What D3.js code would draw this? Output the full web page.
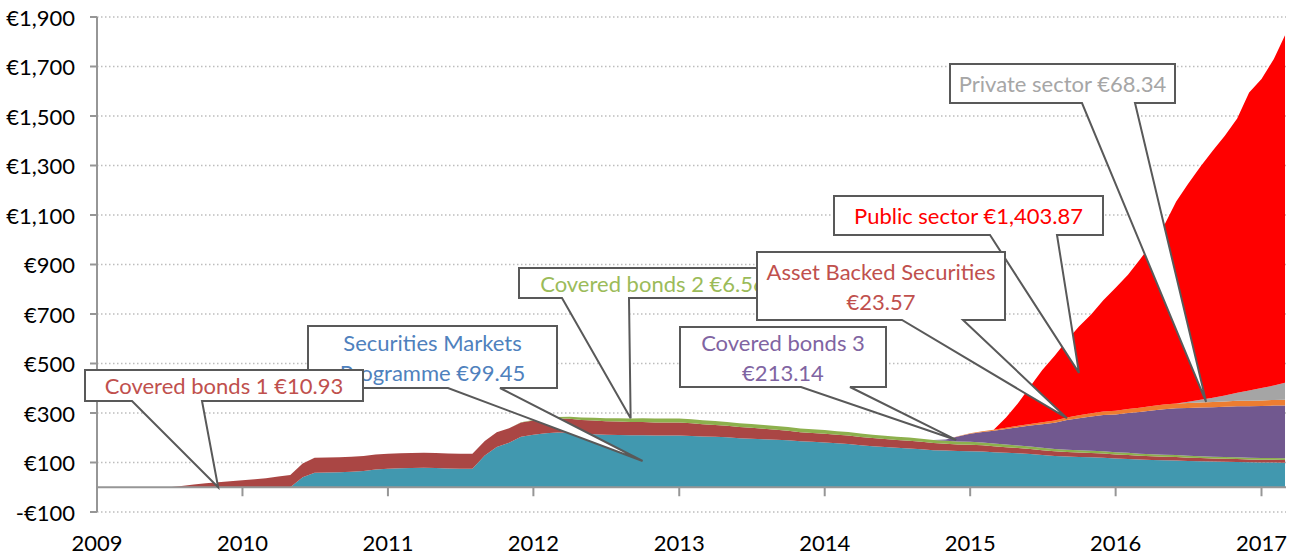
<!DOCTYPE html>
<html>
<head>
<meta charset="utf-8">
<script src="https://cdn.jsdelivr.net/npm/d3@7"></script>
<style>
  body { margin: 0; background: #ffffff; }
  svg { display: block; font-family: Lato, "Open Sans", sans-serif; }
</style>
</head>
<body>
<div id="chart"></div>
<script>
// Monthly holdings in € billion, first of month, Jun 2009 .. Mar 2017
const months = d3.timeMonth.range(new Date(2009, 5, 1), new Date(2017, 2, 2));

// Securities Markets Programme
const smp = [
  0, 0, 0, 0, 0, 0, 0,
  0, 0, 0, 0, 0, 40, 59, 60, 61, 63, 66, 72,
  75, 77, 78, 79, 78, 76, 75, 75, 128, 163, 180, 204,
  212, 218, 221, 220, 216, 214, 212, 211, 210, 210, 209, 209,
  209, 207, 205, 204, 202, 198, 196, 194, 192, 190, 186, 184,
  181, 178, 175, 170, 166, 163, 160, 157, 154, 150, 148, 146,
  145, 144, 141, 139, 137, 134, 130, 126, 124, 122, 121, 119,
  116, 114, 112, 110, 109, 108, 106, 105, 104, 103, 102, 101,
  100, 100, 99.45
];
// Covered bonds 1
const cb1 = [
  0, 0, 5, 11, 16, 20, 24,
  28, 32, 36, 43, 49, 56, 60, 60, 60, 60, 60, 60,
  60, 60, 60, 60, 60, 60, 60, 60, 59, 59, 58, 58,
  58, 58, 57, 57, 56, 56, 55, 55, 54, 54, 53, 53,
  53, 52, 50, 48, 46, 45, 44, 42, 40, 38, 36, 35,
  35, 34, 34, 33, 33, 32, 31, 31, 30, 29, 28, 27,
  27, 26, 25, 23, 22, 21, 20, 19, 18, 18, 17, 17,
  16, 16, 15, 15, 14, 14, 13, 13, 12, 12, 12, 11,
  11, 11, 10.93
];
// Covered bonds 2
const cb2 = [
  0, 0, 0, 0, 0, 0, 0,
  0, 0, 0, 0, 0, 0, 0, 0, 0, 0, 0, 0,
  0, 0, 0, 0, 0, 0, 0, 0, 0, 0, 0, 1,
  2, 4, 6, 8, 10, 11, 12, 13, 14, 15, 16, 16,
  16, 16, 16, 16, 16, 16, 16, 16, 15, 15, 15, 15,
  15, 14, 14, 14, 13, 13, 13, 13, 12, 12, 12, 12,
  12, 11, 11, 11, 10, 10, 10, 10, 10, 9, 9, 9,
  9, 9, 8, 8, 8, 8, 8, 7, 7, 7, 7, 7,
  7, 7, 6.56
];
// Covered bonds 3
const cb3 = [
  0, 0, 0, 0, 0, 0, 0,
  0, 0, 0, 0, 0, 0, 0, 0, 0, 0, 0, 0,
  0, 0, 0, 0, 0, 0, 0, 0, 0, 0, 0, 0,
  0, 0, 0, 0, 0, 0, 0, 0, 0, 0, 0, 0,
  0, 0, 0, 0, 0, 0, 0, 0, 0, 0, 0, 0,
  0, 0, 0, 0, 0, 0, 0, 0, 0, 0, 5, 20,
  32, 42, 51, 62, 73, 84, 95, 106, 120, 130, 139, 147,
  153, 161, 169, 177, 184, 189, 193, 197, 200, 203, 206, 208,
  210, 212, 213.14
];
// Asset Backed Securities
const abs = [
  0, 0, 0, 0, 0, 0, 0,
  0, 0, 0, 0, 0, 0, 0, 0, 0, 0, 0, 0,
  0, 0, 0, 0, 0, 0, 0, 0, 0, 0, 0, 0,
  0, 0, 0, 0, 0, 0, 0, 0, 0, 0, 0, 0,
  0, 0, 0, 0, 0, 0, 0, 0, 0, 0, 0, 0,
  0, 0, 0, 0, 0, 0, 0, 0, 0, 0, 0, 1,
  2, 3, 4, 5, 6, 7, 8, 9, 10, 12, 13, 14,
  15, 16, 17, 18, 19, 19, 20, 20, 21, 21, 22, 22,
  23, 23, 23.57
];
// Private sector (corporate)
const cspp = [
  0, 0, 0, 0, 0, 0, 0,
  0, 0, 0, 0, 0, 0, 0, 0, 0, 0, 0, 0,
  0, 0, 0, 0, 0, 0, 0, 0, 0, 0, 0, 0,
  0, 0, 0, 0, 0, 0, 0, 0, 0, 0, 0, 0,
  0, 0, 0, 0, 0, 0, 0, 0, 0, 0, 0, 0,
  0, 0, 0, 0, 0, 0, 0, 0, 0, 0, 0, 0,
  0, 0, 0, 0, 0, 0, 0, 0, 0, 0, 0, 0,
  0, 0, 0, 0, 0, 0, 5, 12, 18, 25, 33, 42,
  50, 58, 68.34
];
// Public sector
const pspp = [
  0, 0, 0, 0, 0, 0, 0,
  0, 0, 0, 0, 0, 0, 0, 0, 0, 0, 0, 0,
  0, 0, 0, 0, 0, 0, 0, 0, 0, 0, 0, 0,
  0, 0, 0, 0, 0, 0, 0, 0, 0, 0, 0, 0,
  0, 0, 0, 0, 0, 0, 0, 0, 0, 0, 0, 0,
  0, 0, 0, 0, 0, 0, 0, 0, 0, 0, 0, 0,
  0, 0, 0, 42, 91, 152, 211, 261, 312, 359, 400, 450,
  497, 543, 597, 657, 722, 817, 881, 942, 999, 1049, 1108, 1204,
  1249, 1319, 1403.87
];

const seriesKeys = ["smp", "cb1", "cb2", "cb3", "abs", "cspp", "pspp"];
const seriesValues = [smp, cb1, cb2, cb3, abs, cspp, pspp];
const seriesColors = ["#4198AF", "#AA4644", "#8DB04D", "#71588F", "#ED7D31", "#A5A5A5", "#FF0000"];

const yTicks = [-100, 100, 300, 500, 700, 900, 1100, 1300, 1500, 1700, 1900];
const xTickYears = [2009, 2010, 2011, 2012, 2013, 2014, 2015, 2016, 2017];

// Callout labels: text, colour, box [x0,y0,x1,y1], pointer base on box bottom, tip in data units
const callouts = [
  { lines: ["Securities Markets", "Programme €99.45"], color: "#4F81BD",
    box: [308, 326, 557, 388], base: [448, 500], tip: [new Date(2012, 9, 1), 106] },
  { lines: ["Covered bonds 1 €10.93"], color: "#C0504D",
    box: [85, 370, 363, 401], base: [132, 202], tip: [new Date(2009, 10, 1), 0] },
  { lines: ["Covered bonds 2 €6.56"], color: "#9BBB59",
    box: [519, 268, 787, 298], base: [562, 629], tip: [new Date(2012, 8, 1), 279] },
  { lines: ["Public sector €1,403.87"], color: "#FF0000",
    box: [834, 196, 1103, 235], base: [990, 1057], tip: [new Date(2015, 9, 1), 462] },
  { lines: ["Asset Backed Securities", "€23.57"], color: "#C0504D",
    box: [757, 252, 1005, 320], base: [902, 963], tip: [new Date(2015, 8, 1), 279] },
  { lines: ["Covered bonds 3", "€213.14"], color: "#8064A2",
    box: [680, 327, 886, 387], base: [801, 850], tip: [new Date(2014, 10, 27), 191] },
  { lines: ["Private sector €68.34"], color: "#A6A6A6",
    box: [950, 64, 1175, 103], base: [1082, 1135], tip: [new Date(2016, 7, 15), 345] }
];

const width = 1299;
const height = 556;
const plot = { left: 97, right: 1286, top: 17, bottom: 512 };
const fontSize = "22px";

const svg = d3.select("#chart").append("svg")
  .attr("width", width)
  .attr("height", height);

const x = d3.scaleTime()
  .domain([new Date(2009, 0, 1), new Date(2017, 0, 1)])
  .range([plot.left, 1261.5]);

const y = d3.scaleLinear()
  .domain([-100, 1900])
  .range([plot.bottom, plot.top]);

// Gridlines
svg.append("g")
  .selectAll("line")
  .data(yTicks)
  .enter().append("line")
  .attr("x1", plot.left)
  .attr("x2", plot.right)
  .attr("y1", d => y(d))
  .attr("y2", d => y(d))
  .style("stroke", "#bdbdbd")
  .style("stroke-width", 1.5)
  .style("stroke-dasharray", "1.5,2.5");

// Stacked areas
const rows = months.map((m, i) => {
  const row = { date: m };
  seriesKeys.forEach((k, j) => { row[k] = seriesValues[j][i]; });
  return row;
});

const stacked = d3.stack().keys(seriesKeys)(rows);

const area = d3.area()
  .x(d => x(d.data.date))
  .y0(d => y(d[0]))
  .y1(d => y(d[1]));

svg.append("g")
  .selectAll("path")
  .data(stacked)
  .enter().append("path")
  .attr("d", area)
  .style("fill", (d, i) => seriesColors[i]);

// Axes
const axisColor = "#969696";

svg.append("line")
  .attr("x1", plot.left).attr("x2", plot.left)
  .attr("y1", plot.top).attr("y2", plot.bottom)
  .style("stroke", axisColor).style("stroke-width", 2);

svg.append("line")
  .attr("x1", plot.left).attr("x2", plot.right)
  .attr("y1", y(0)).attr("y2", y(0))
  .style("stroke", axisColor).style("stroke-width", 2);

const fmt = d3.format(",");

const yAxis = svg.append("g");
yAxis.selectAll("line")
  .data(yTicks)
  .enter().append("line")
  .attr("x1", plot.left - 7).attr("x2", plot.left)
  .attr("y1", d => y(d)).attr("y2", d => y(d))
  .style("stroke", axisColor).style("stroke-width", 2);
yAxis.selectAll("text")
  .data(yTicks)
  .enter().append("text")
  .attr("x", 75)
  .attr("y", d => y(d))
  .attr("text-anchor", "end")
  .attr("dominant-baseline", "central")
  .style("font-size", fontSize)
  .style("fill", "#000")
  .text(d => (d < 0 ? "-€" + fmt(-d) : "€" + fmt(d)));

const xAxis = svg.append("g");
xAxis.selectAll("line")
  .data(xTickYears)
  .enter().append("line")
  .attr("x1", d => x(new Date(d, 0, 1))).attr("x2", d => x(new Date(d, 0, 1)))
  .attr("y1", y(0)).attr("y2", y(0) + 9)
  .style("stroke", axisColor).style("stroke-width", 2);
xAxis.selectAll("text")
  .data(xTickYears)
  .enter().append("text")
  .attr("x", d => x(new Date(d, 0, 1)))
  .attr("y", 551)
  .attr("text-anchor", "middle")
  .style("font-size", fontSize)
  .style("fill", "#000")
  .text(d => d);

// Callouts
const calloutGroup = svg.append("g");
callouts.forEach(c => {
  const [x0, y0, x1, y1] = c.box;
  const tx = x(c.tip[0]);
  const ty = y(c.tip[1]);
  const path = `M${x0},${y0}H${x1}V${y1}H${c.base[1]}L${tx},${ty}L${c.base[0]},${y1}H${x0}Z`;
  calloutGroup.append("path")
    .attr("d", path)
    .style("fill", "#fff")
    .style("stroke", "#595959")
    .style("stroke-width", 2)
    .style("stroke-linejoin", "miter");

  const cx = (x0 + x1) / 2;
  const mid = (y0 + y1) / 2;
  const offsets = c.lines.length === 1 ? [0] : [-14.5, 15.5];
  c.lines.forEach((line, i) => {
    calloutGroup.append("text")
      .attr("x", cx)
      .attr("y", mid + offsets[i])
      .attr("text-anchor", "middle")
      .attr("dominant-baseline", "central")
      .style("font-size", fontSize)
      .style("fill", c.color)
      .text(line);
  });
});
</script>
</body>
</html>
